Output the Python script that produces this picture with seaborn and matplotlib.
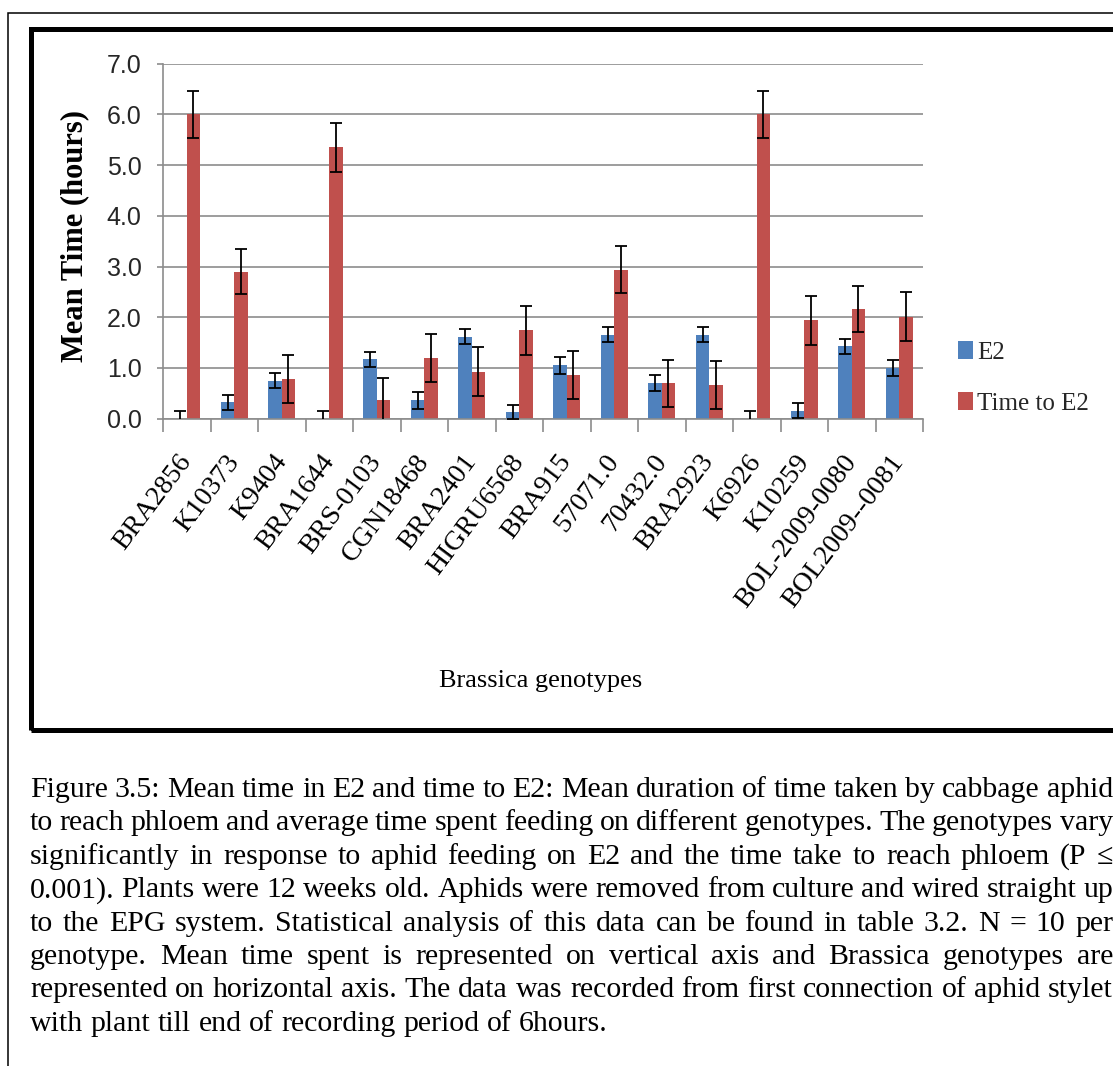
import numpy as np
import pandas as pd
import matplotlib
matplotlib.use("Agg")
import matplotlib.pyplot as plt
import seaborn as sns
from matplotlib.patches import Rectangle

# ---------------- data ----------------
genotypes = ["BRA2856", "K10373", "K9404", "BRA1644", "BRS-0103", "CGN18468",
             "BRA2401", "HIGRU6568", "BRA915", "57071.0", "70432.0", "BRA2923",
             "K6926", "K10259", "BOL-2009-0080", "BOL2009--0081"]
series_names = ["E2", "Time to E2"]
e2_mean = [0.00, 0.32, 0.75, 0.00, 1.17, 0.36, 1.62, 0.13,
           1.05, 1.66, 0.70, 1.66, 0.00, 0.16, 1.43, 1.00]
e2_err = [0.15, 0.15, 0.15, 0.15, 0.15, 0.17, 0.15, 0.14,
          0.17, 0.15, 0.16, 0.15, 0.16, 0.14, 0.15, 0.15]
time_to_e2_mean = [6.00, 2.90, 0.78, 5.35, 0.36, 1.20, 0.93, 1.74,
                   0.86, 2.94, 0.70, 0.66, 6.00, 1.94, 2.16, 2.01]
time_to_e2_err = [0.47, 0.45, 0.48, 0.48, 0.45, 0.48, 0.48, 0.48,
                  0.48, 0.46, 0.46, 0.47, 0.47, 0.48, 0.46, 0.48]
y_ticks = [0, 1, 2, 3, 4, 5, 6, 7]
caption_lines = [
    "Figure 3.5: Mean time in E2 and time to E2: Mean duration of time taken by cabbage aphid",
    "to reach phloem and average time spent feeding on different genotypes. The genotypes vary",
    "significantly in response to aphid feeding on E2 and the time take to reach phloem (P \u2264",
    "0.001). Plants were 12 weeks old. Aphids were removed from culture and wired straight up",
    "to the EPG system. Statistical analysis of this data can be found in table 3.2. N = 10 per",
    "genotype. Mean time spent is represented on vertical axis and Brassica genotypes are",
    "represented on horizontal axis. The data was recorded from first connection of aphid stylet",
    "with plant till end of recording period of 6hours.",
]

# ---------------- style ----------------
W, H = 1113, 1066
sns.set_theme(style="white")
plt.rcParams["font.family"] = ["Liberation Serif", "DejaVu Serif"]
colors = ["#4F81BD", "#C0504D"]
grey = "#8C8C8C"

fig = plt.figure(figsize=(W / 100, H / 100), dpi=100)
fig.patch.set_facecolor("white")

ax_l, ax_r, ax_t, ax_b = 163, 923, 63.7, 418.7
ax = fig.add_axes([ax_l / W, 1 - ax_b / H, (ax_r - ax_l) / W, (ax_b - ax_t) / H])

df = pd.DataFrame({
    "genotype": genotypes * 2,
    "series": [series_names[0]] * len(genotypes) + [series_names[1]] * len(genotypes),
    "value": e2_mean + time_to_e2_mean,
})
sns.barplot(data=df, x="genotype", y="value", hue="series", hue_order=series_names,
            order=genotypes, palette=colors, width=0.56, saturation=1,
            errorbar=None, linewidth=0, ax=ax)

for cont, err in zip(ax.containers, [e2_err, time_to_e2_err]):
    xs = [b.get_x() + b.get_width() / 2 for b in cont]
    ys = [b.get_height() for b in cont]
    ax.errorbar(xs, ys, yerr=err, fmt="none", ecolor="black", elinewidth=1.3,
                capsize=4.5, capthick=1.3, zorder=5)

ax.set_ylim(0, 7)
ax.set_xlim(-0.5, len(genotypes) - 0.5)
ax.set_yticks(y_ticks)
ax.set_yticklabels([f"{v:.1f}" for v in y_ticks], fontfamily="Liberation Sans",
                   fontsize=18, color="#262626")
ax.yaxis.grid(True, color=grey, linewidth=1.2)
ax.set_axisbelow(True)
for s in ["top", "right"]:
    ax.spines[s].set_visible(False)
for s in ["left", "bottom"]:
    ax.spines[s].set_color(grey)
    ax.spines[s].set_linewidth(1.2)
ax.tick_params(axis="y", left=True, length=4.5, width=1.2, color=grey, pad=11)

ax.set_xticks(range(len(genotypes)))
ax.set_xticklabels(genotypes, rotation=53, ha="right", va="center",
                   rotation_mode="anchor", fontsize=20, color="black")
ax.tick_params(axis="x", which="major", bottom=True, length=0, pad=28)
ax.set_xticks(np.arange(-0.5, len(genotypes), 1.0), minor=True)
ax.tick_params(axis="x", which="minor", bottom=True, length=9, width=1.2, color=grey)

ax.set_ylabel("Mean Time (hours)", fontsize=22, fontweight="bold", color="black")
ax.yaxis.set_label_coords((89 - ax_l) / (ax_r - ax_l), (ax_b - 235.5) / (ax_b - ax_t))
ax.set_xlabel("Brassica genotypes", fontsize=19, color="black")
ax.xaxis.set_label_coords((541 - ax_l) / (ax_r - ax_l), (ax_b - 670) / (ax_b - ax_t))

handles, labels = ax.get_legend_handles_labels()
if ax.legend_ is not None:
    ax.legend_.remove()
fig.legend(handles, labels, loc="center left", bbox_to_anchor=(958 / W, 1 - 378 / H),
           frameon=False, fontsize=18, handlelength=0.6, handleheight=0.7,
           handletextpad=0.15, labelspacing=1.15, borderaxespad=0, borderpad=0)

# ---------------- frames ----------------
fig.add_artist(Rectangle((7.5 / W, -0.2), 1.5, 1.2 - 13 / H, transform=fig.transFigure,
                         fill=False, edgecolor="black", linewidth=1.1, clip_on=False))
fig.add_artist(Rectangle((31 / W, 1 - 730 / H), 1.5, (730 - 28.5) / H, transform=fig.transFigure,
                         fill=False, edgecolor="black", linewidth=3.6, clip_on=False))

# ---------------- justified caption ----------------
renderer = fig.canvas.get_renderer()
cap_left, cap_right = 30, 1113
base0, step = 797, 33.4
cap_fs = 21.5
space_w = fig.text(0, 0, "a a", fontsize=cap_fs).get_window_extent(renderer).width
aa_w = fig.text(0, 0, "aa", fontsize=cap_fs).get_window_extent(renderer).width
fig.texts[-1].remove()
fig.texts[-1].remove()
normal_gap = space_w - aa_w
for i, line in enumerate(caption_lines):
    words = line.split(" ")
    y = 1 - (base0 + i * step) / H
    txts = [fig.text(0, y, w, fontsize=cap_fs, va="baseline", ha="left", color="black")
            for w in words]
    widths = [t.get_window_extent(renderer).width for t in txts]
    last = i == len(caption_lines) - 1
    gap = normal_gap if last else (cap_right - cap_left - sum(widths)) / (len(words) - 1)
    x = cap_left
    for t, w in zip(txts, widths):
        t.set_x(x / W)
        x += w + gap

fig.savefig("out.png", dpi=100, facecolor="white")
